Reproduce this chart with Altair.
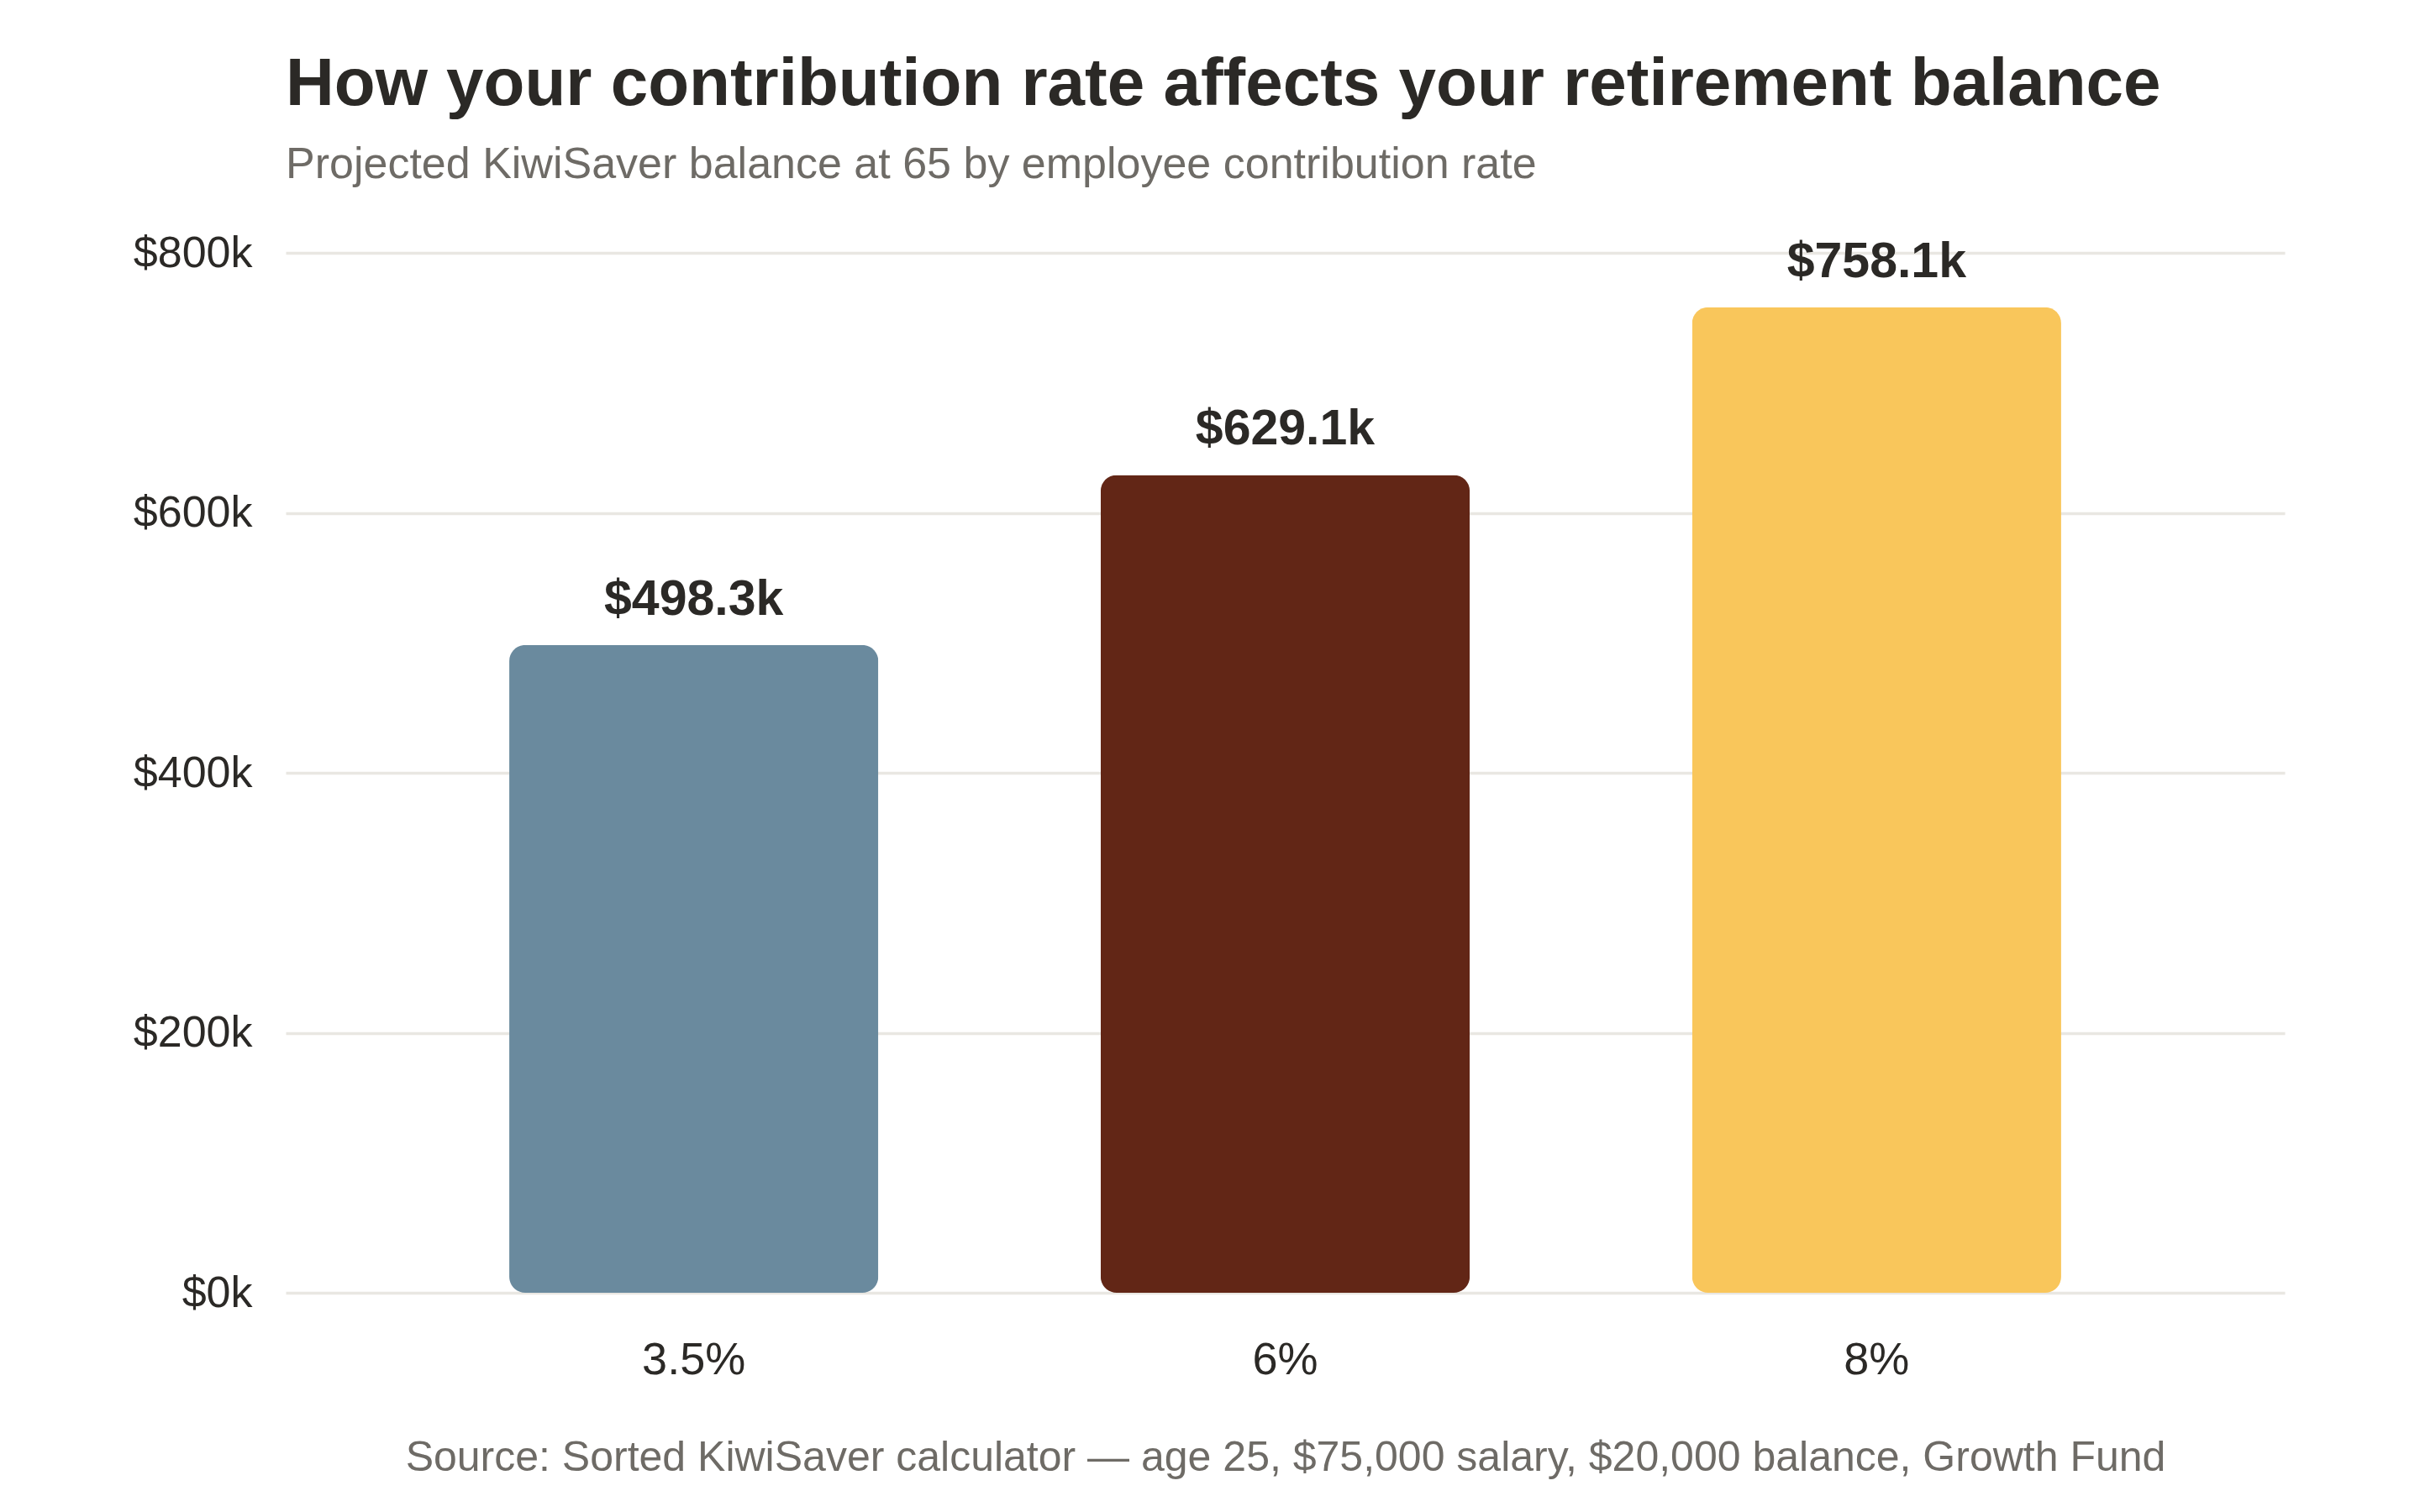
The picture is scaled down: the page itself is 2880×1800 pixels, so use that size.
import altair as alt
import pandas as pd

rates = ["3.5%", "6%", "8%"]
balances = [498300, 629100, 758100]
labels = ["$498.3k", "$629.1k", "$758.1k"]
colors = ["#6a8a9e", "#622616", "#f9c65b"]

df = pd.DataFrame({"rate": rates, "balance": balances, "label": labels})

FONT = "Liberation Sans"
DARK = "#2b2926"
GRAY = "#6e6b66"

x_enc = alt.X(
    "rate:N",
    sort=rates,
    scale=alt.Scale(paddingInner=0.376, paddingOuter=0.378),
    axis=alt.Axis(
        title="Source: Sorted KiwiSaver calculator \u2014 age 25, $75,000 salary, $20,000 balance, Growth Fund",
        titleFont=FONT,
        titleFontSize=50,
        titleFontWeight="normal",
        titleColor=GRAY,
        titlePadding=64,
        labelFont=FONT,
        labelFontSize=54,
        labelColor=DARK,
        labelPadding=53,
        labelAngle=0,
        domain=False,
        ticks=False,
        grid=False,
    ),
)

y_enc = alt.Y(
    "balance:Q",
    scale=alt.Scale(domain=[0, 800000]),
    axis=alt.Axis(
        title=None,
        values=[0, 200000, 400000, 600000, 800000],
        labelExpr="'$' + format(datum.value / 1000, 'd') + 'k'",
        labelFont=FONT,
        labelFontSize=52,
        labelColor=DARK,
        labelPadding=40,
        domain=False,
        ticks=False,
        grid=True,
        gridColor="#e9e7e2",
        gridWidth=3.5,
    ),
)

bars = alt.Chart(df).mark_bar(cornerRadius=19).encode(
    x=x_enc,
    y=y_enc,
    color=alt.Color("rate:N", scale=alt.Scale(domain=rates, range=colors), legend=None),
)

text = alt.Chart(df).mark_text(
    font=FONT, fontSize=59, fontWeight="bold", color=DARK, dy=-36, baseline="alphabetic"
).encode(
    x=alt.X("rate:N", sort=rates),
    y=alt.Y("balance:Q"),
    text="label:N",
)

chart = (
    alt.layer(bars, text)
    .properties(
        width=2379,
        height=1238,
        padding={"left": 340, "top": 301, "right": 161, "bottom": 261},
        autosize=alt.AutoSizeParams(type="none"),
        title=alt.TitleParams(
            text="How your contribution rate affects your retirement balance",
            subtitle="Projected KiwiSaver balance at 65 by employee contribution rate",
            anchor="start",
            frame="group",
            font=FONT,
            fontSize=80,
            fontWeight="bold",
            color=DARK,
            subtitleFont=FONT,
            subtitleFontSize=52,
            subtitleColor=GRAY,
            subtitlePadding=29,
            offset=52,
        ),
    )
    .configure(background="white")
    .configure_view(strokeWidth=0, stroke="transparent")
)

chart.save("out.html", embed_options={"renderer": "svg", "actions": False})
